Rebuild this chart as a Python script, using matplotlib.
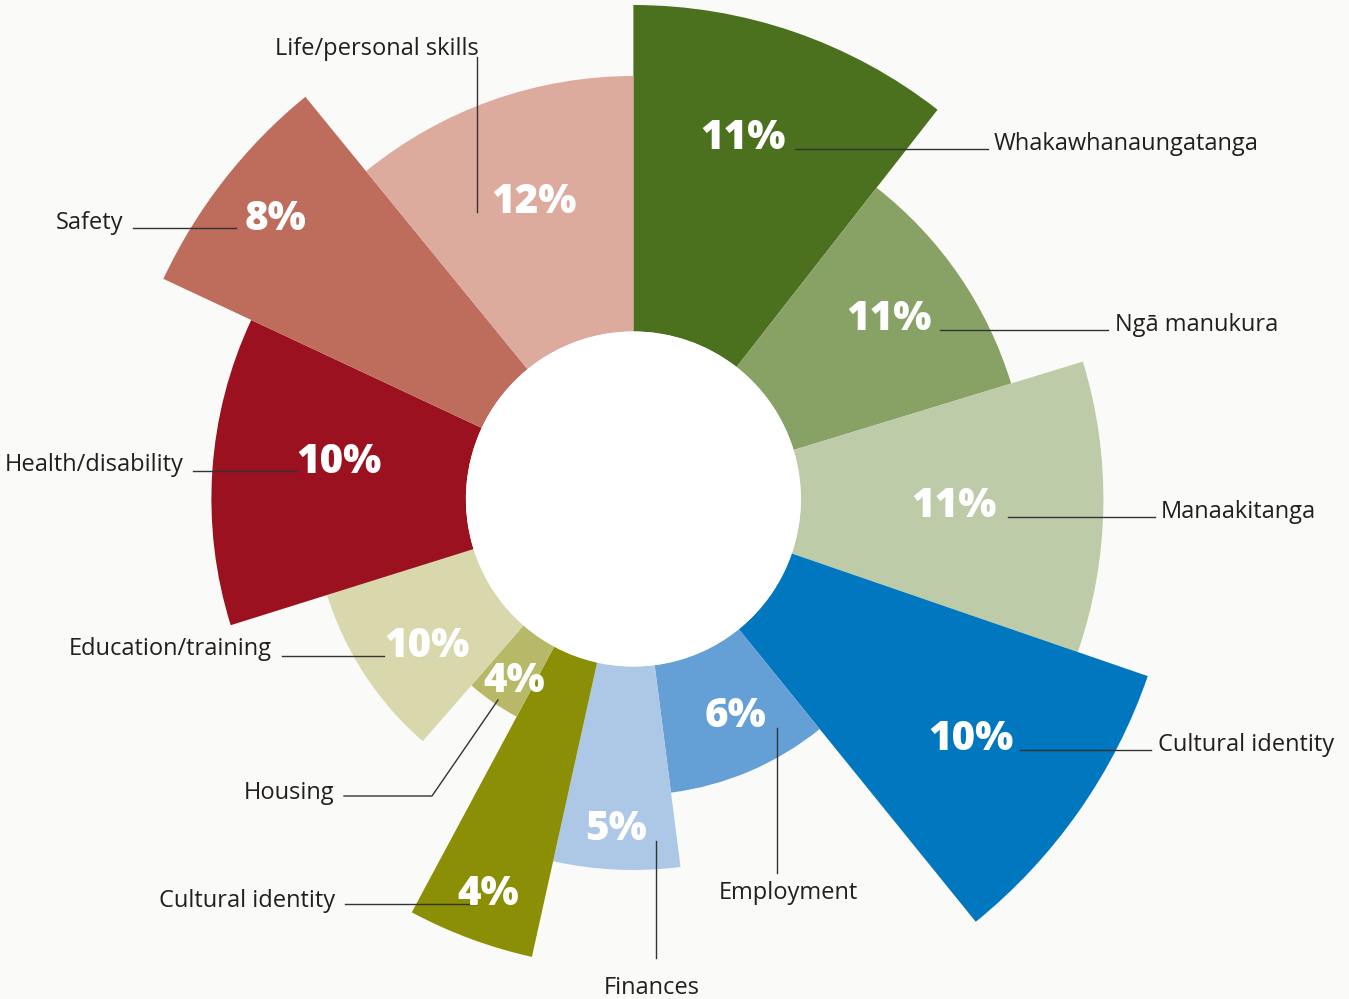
import numpy as np
import matplotlib
matplotlib.use('Agg')
import matplotlib.pyplot as plt

# Data (clockwise from 12 o'clock)
categories = ['Whakawhanaungatanga', 'Ngā manukura', 'Manaakitanga', 'Cultural identity',
              'Employment', 'Finances', 'Cultural identity', 'Housing',
              'Education/training', 'Health/disability', 'Safety', 'Life/personal skills']
percent = [11, 11, 11, 10, 6, 5, 4, 4, 10, 10, 8, 12]
# angular width of each wedge (degrees) and outer radius of each wedge (px)
widths_deg = [38, 35, 36, 32, 31.7, 19.8, 15.7, 12.8, 31.6, 42.5, 25.7, 39.2]
radius = [494, 395, 470, 544, 296, 371, 469, 247, 321, 422, 519, 423]
colors = ['#4b711e', '#88a266', '#bdcba8', '#0077be', '#649fd5', '#adc8e7',
          '#8a8f06', '#b8b968', '#d9d8ad', '#9b111f', '#be6c5c', '#dcab9e']

hole = 167.5
bg = '#fafaf8'

# Layout (pixels, y from top)
W, H = 1349, 999
cx, cy = 633.4, 499
rmax = 560

# percentage text: centre x, baseline y
pct_pos = [(743, 149), (889, 330), (954, 517), (971, 750), (736, 727), (616, 840),
           (488, 905), (514, 692), (427, 657), (339, 473), (276, 230), (534, 213)]
# leader lines
leaders = [[(795, 149), (988, 149)], [(940, 330), (1108, 330)], [(1008, 517), (1155, 517)],
           [(1020, 750), (1151, 750)], [(777, 728), (777, 873)], [(656, 841), (656, 958)],
           [(345, 904), (477, 904)], [(498, 700), (432, 796), (344, 796)],
           [(282, 656), (384, 656)], [(193, 471), (297, 471)], [(133, 228), (236, 228)],
           [(477, 212), (477, 57)]]
# outside labels: x, y centre, horizontal alignment
label_pos = [(994, 144, 'left'), (1115, 325, 'left'), (1161, 512, 'left'), (1158, 745, 'left'),
             (788, 893, 'center'), (652, 988, 'center'), (335, 901, 'right'), (334, 793, 'right'),
             (272, 649, 'right'), (184, 465, 'right'), (123, 223, 'right'), (377, 49, 'center')]

plt.rcParams['font.family'] = ['Open Sans', 'DejaVu Sans']

fig = plt.figure(figsize=(W / 100, H / 100), dpi=100)
fig.patch.set_facecolor(bg)

ax = fig.add_axes([(cx - rmax) / W, ((H - cy) - rmax) / H, 2 * rmax / W, 2 * rmax / H],
                  projection='polar')
ax.set_theta_zero_location('N')
ax.set_theta_direction(-1)
ax.set_ylim(0, rmax)
ax.axis('off')

starts = np.deg2rad(np.concatenate([[0], np.cumsum(widths_deg)[:-1]]))
ax.bar(starts, np.array(radius) - hole, width=np.deg2rad(widths_deg), bottom=hole,
       align='edge', color=colors, linewidth=0)
# white centre
ax.bar(0, hole, width=2 * np.pi, bottom=0, color='white', linewidth=0)

# overlay for labels in pixel space
ov = fig.add_axes([0, 0, 1, 1])
ov.set_xlim(0, W)
ov.set_ylim(H, 0)
ov.axis('off')
ov.patch.set_alpha(0)

for i, name in enumerate(categories):
    x, y = pct_pos[i]
    ov.text(x, y, f'{percent[i]}%', ha='center', va='baseline', color='white',
            fontsize=29, fontweight='heavy')
    pts = np.array(leaders[i])
    ov.plot(pts[:, 0], pts[:, 1], color='#333333', lw=1.0)
    lx, ly, ha = label_pos[i]
    ov.text(lx, ly, name, ha=ha, va='center', color='#231f20', fontsize=17)

fig.savefig('out.png', dpi=100, facecolor=bg)
